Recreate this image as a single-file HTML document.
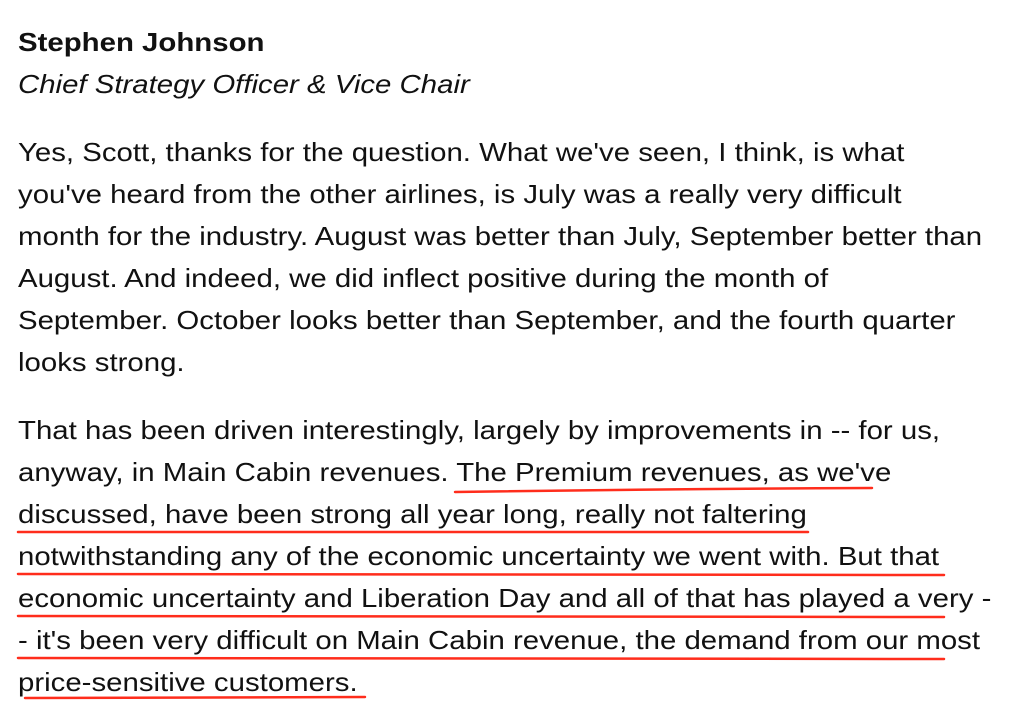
<!DOCTYPE html>
<html><head><meta charset="utf-8"><style>
html,body{margin:0;padding:0;background:#fff;width:1024px;height:720px;overflow:hidden}
body{position:relative;font-family:"Liberation Sans",sans-serif;color:#111;font-size:26px}
.l{position:absolute;left:18px;white-space:nowrap;line-height:30px;transform:scaleX(1.13);transform-origin:0 0}
svg{position:absolute;left:0;top:0}
</style></head><body>
<div class="l" style="top:27px;font-weight:bold;">Stephen Johnson</div>
<div class="l" style="top:69px;font-style:italic;">Chief Strategy Officer &amp; Vice Chair</div>
<div class="l" style="top:137px">Yes, Scott, thanks for the question. What we've seen, I think, is what</div>
<div class="l" style="top:179px">you've heard from the other airlines, is July was a really very difficult</div>
<div class="l" style="top:221px">month for the industry. August was better than July, September better than</div>
<div class="l" style="top:263px">August. And indeed, we did inflect positive during the month of</div>
<div class="l" style="top:305px">September. October looks better than September, and the fourth quarter</div>
<div class="l" style="top:347px">looks strong.</div>
<div class="l" style="top:415px">That has been driven interestingly, largely by improvements in -- for us,</div>
<div class="l" style="top:457px">anyway, in Main Cabin revenues. The Premium revenues, as we've</div>
<div class="l" style="top:499px">discussed, have been strong all year long, really not faltering</div>
<div class="l" style="top:541px">notwithstanding any of the economic uncertainty we went with. But that</div>
<div class="l" style="top:583px">economic uncertainty and Liberation Day and all of that has played a very -</div>
<div class="l" style="top:625px">- it's been very difficult on Main Cabin revenue, the demand from our most</div>
<div class="l" style="top:667px">price-sensitive customers.</div>
<svg width="1024" height="720" fill="none" stroke="#ff2d1c" stroke-width="2.5" stroke-linecap="round">
<path d="M455 492 Q660 489 872 488"/>
<path d="M18 532 Q400 531 808 532"/>
<path d="M18 574 Q480 573 944 575"/>
<path d="M18 616 Q480 615 944 617"/>
<path d="M18 658 Q480 657 944 659"/>
<path d="M25 698 Q200 697 365 697"/>
</svg>
</body></html>
